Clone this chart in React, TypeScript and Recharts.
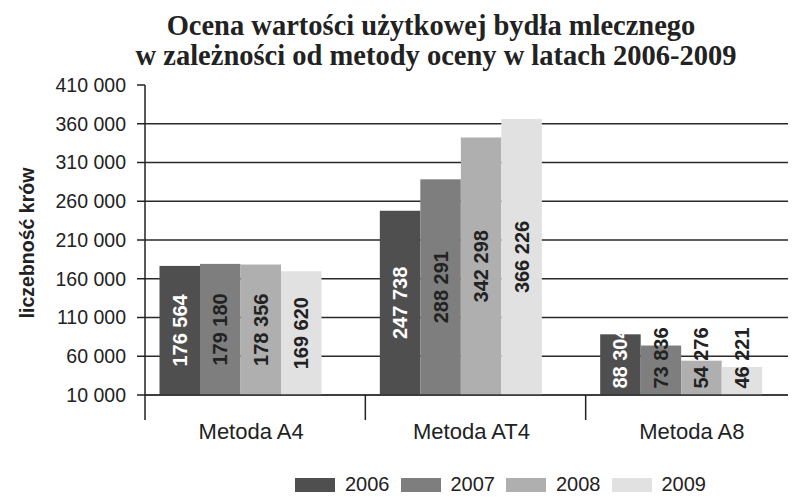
import React from "react";
import { BarChart, Bar, XAxis, YAxis, CartesianGrid, Legend, LabelList } from "recharts";

const methods = ["Metoda A4", "Metoda AT4", "Metoda A8"];
const years = ["2006", "2007", "2008", "2009"];
const cows2006 = [176564, 247738, 88304];
const cows2007 = [179180, 288291, 73836];
const cows2008 = [178356, 342298, 54276];
const cows2009 = [169620, 366226, 46221];
const yTicks = [10000, 60000, 110000, 160000, 210000, 260000, 310000, 360000, 410000];

const colors = ["#4f4f4f", "#7e7e7e", "#afafaf", "#e1e1e1"];
const labelColors = ["#ffffff", "#222222", "#222222", "#222222"];

const data = methods.map((m, i) => ({
  method: m,
  y2006: cows2006[i],
  y2007: cows2007[i],
  y2008: cows2008[i],
  y2009: cows2009[i],
}));

const SANS = '"Liberation Sans", Arial, sans-serif';
const SERIF = '"Liberation Serif", "Times New Roman", serif';
const CHART_W = 810;
const AXIS_W = 145;
const RIGHT = 4;
const BAND = (CHART_W - AXIS_W - RIGHT) / methods.length;
const SHIFT = 14.5; // bars sit left of the category centre in the original

const fmt = (v: number) => String(v).replace(/\B(?=(\d{3})+(?!\d))/g, " ");

function BarShape(props: any) {
  const { x, y, width, height, fill } = props;
  return <rect x={x - SHIFT} y={y} width={width} height={height} fill={fill} />;
}

function makeLabel(color: string) {
  return (props: any) => {
    const vb = props.viewBox || props;
    const x = vb.x - SHIFT;
    const w = vb.width;
    const top = Math.min(vb.y, vb.y + vb.height);
    const h = Math.abs(vb.height);
    const bottom = top + h;
    const half = 36;
    const cy = Math.min(top + h / 2, bottom - half - 1);
    const cx = x + w / 2;
    return (
      <text
        x={cx}
        y={cy}
        transform={`rotate(-90 ${cx} ${cy})`}
        textAnchor="middle"
        dominantBaseline="central"
        fill={color}
        fontFamily={SANS}
        fontWeight="bold"
        fontSize={20}
      >
        {fmt(Number(props.value))}
      </text>
    );
  };
}

function CategoryTick(props: any) {
  const { x, y, payload } = props;
  const sep = x - BAND / 2;
  return (
    <g>
      <line x1={sep} y1={y} x2={sep} y2={y + 25} stroke="#222" strokeWidth={1.5} />
      <text x={x - 4} y={y + 44} textAnchor="middle" fill="#222" fontFamily={SANS} fontSize={22}>
        {payload.value}
      </text>
    </g>
  );
}

function LegendContent() {
  return (
    <div style={{ display: "flex", justifyContent: "center", alignItems: "center", fontFamily: SANS, fontSize: 20, color: "#222", paddingLeft: 216 }}>
      {years.map((yr, i) => (
        <div key={yr} style={{ display: "flex", alignItems: "center", marginRight: 11 }}>
          <div style={{ width: 40, height: 14, background: colors[i], marginRight: 10 }} />
          <span>{yr}</span>
        </div>
      ))}
    </div>
  );
}

export default function App() {
  return (
    <div style={{ position: "relative", margin: -8, width: 796, height: 500, overflow: "hidden", background: "#fff" }}>
      <BarChart
        width={CHART_W}
        height={500}
        data={data}
        margin={{ top: 85, right: RIGHT, bottom: 22, left: 0 }}
        barSize={40.5}
        barGap={0}
      >
        <CartesianGrid
          vertical={false}
          stroke="#2a2a2a"
          strokeWidth={1.4}
          horizontalValues={yTicks.slice(0, -1)}
        />
        <XAxis
          dataKey="method"
          interval={0}
          height={60}
          tickSize={0}
          tickMargin={0}
          tickLine={false}
          axisLine={{ stroke: "#333", strokeWidth: 1.5 }}
          tick={<CategoryTick />}
        />
        <YAxis
          type="number"
          domain={[10000, 410000]}
          ticks={yTicks}
          width={AXIS_W}
          tickSize={8}
          tickMargin={11}
          tickFormatter={fmt}
          axisLine={{ stroke: "#222", strokeWidth: 1.5 }}
          tickLine={{ stroke: "#222", strokeWidth: 1.5 }}
          tick={{ fill: "#222", fontSize: 19.5, fontFamily: SANS }}
        />
        <Legend
          content={<LegendContent />}
          wrapperStyle={{ position: "absolute", top: 473, left: 0, width: 796 }}
        />
        {years.map((yr, i) => (
          <Bar key={yr} dataKey={`y${yr}`} name={yr} fill={colors[i]} shape={<BarShape />} isAnimationActive={false}>
            <LabelList dataKey={`y${yr}`} content={makeLabel(labelColors[i])} />
          </Bar>
        ))}
      </BarChart>
      <svg width={796} height={500} style={{ position: "absolute", left: 0, top: 0, pointerEvents: "none" }}>
        <text x={431} y={35} textAnchor="middle" fontFamily={SERIF} fontWeight="bold" fontSize={28.5} fill="#222">
          Ocena wartości użytkowej bydła mlecznego
        </text>
        <text x={436} y={65} textAnchor="middle" fontFamily={SERIF} fontWeight="bold" fontSize={28.5} fill="#222">
          w zależności od metody oceny w latach 2006-2009
        </text>
        <text
          x={34}
          y={243}
          transform="rotate(-90 34 243)"
          textAnchor="middle"
          fontFamily={SANS}
          fontWeight="bold"
          fontSize={19.5}
          fill="#222"
        >
          liczebność krów
        </text>
      </svg>
    </div>
  );
}
